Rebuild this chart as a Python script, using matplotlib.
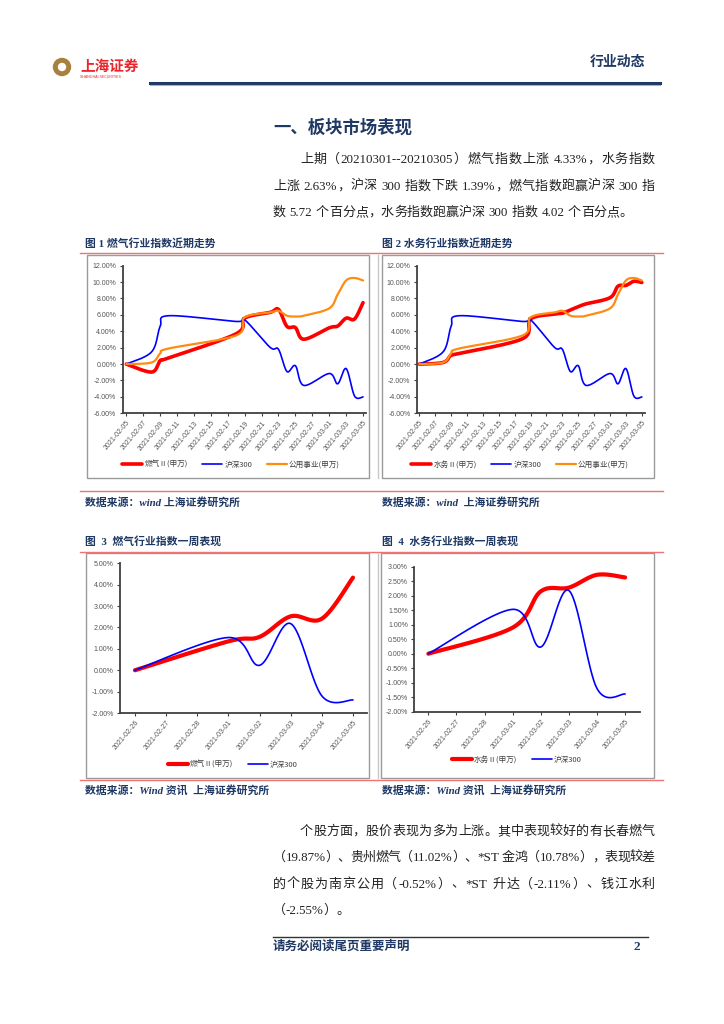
import numpy as np
import pandas as pd
import matplotlib
matplotlib.use('Agg')
import matplotlib.pyplot as plt
from matplotlib.lines import Line2D
from matplotlib.patches import Rectangle, Circle
from matplotlib.ticker import FuncFormatter

# ---- data ----
trend_dates = ['2021-02-05', '2021-02-08', '2021-02-09', '2021-02-10', '2021-02-18',
               '2021-02-19', '2021-02-22', '2021-02-23', '2021-02-24', '2021-02-25',
               '2021-02-26', '2021-03-01', '2021-03-02', '2021-03-03', '2021-03-04',
               '2021-03-05']
gas_trend = [0, -0.97, 0.4, 0.75, 3.7, 5.6, 6.3, 6.67, 4.6, 4.45, 3.03, 4.42, 4.64, 5.6, 5.5, 7.5]
hs300_trend = [0, 1.5, 4.6, 5.9, 5.2, 5.4, 2.05, 1.8, -0.9, -0.2, -2.6, -1.15, -2.4, -0.55, -3.9, -4.0]
utility_trend = [0, 0.2, 1.3, 1.9, 3.5, 5.7, 6.3, 6.5, 5.9, 5.8, 5.9, 6.8, 8.5, 10.2, 10.5, 10.2]
water_trend = [0, 0.2, 1.1, 1.3, 3.1, 5.5, 6.1, 6.2, 6.6, 7.0, 7.35, 8.1, 9.5, 9.6, 10.1, 9.95]
trend_ticks = pd.date_range('2021-02-05', '2021-03-05', freq='2D')

week_dates = ['2021-02-26', '2021-03-01', '2021-03-02', '2021-03-03', '2021-03-04', '2021-03-05']
gas_week = [0, 1.35, 1.56, 2.52, 2.41, 4.33]
hs300_week = [0, 1.53, 0.23, 2.18, -1.2, -1.39]
water_week = [0, 0.90, 2.15, 2.28, 2.72, 2.63]
week_ticks = pd.date_range('2021-02-26', '2021-03-05', freq='D')

title = '一、板块市场表现'
para1 = ['上期（20210301--20210305）燃气指数上涨 4.33%，水务指数',
         '上涨 2.63%，沪深 300 指数下跌 1.39%，燃气指数跑赢沪深 300 指',
         '数 5.72 个百分点，水务指数跑赢沪深 300 指数 4.02 个百分点。']
para2 = ['个股方面，股价表现为多为上涨。其中表现较好的有长春燃气',
         '（19.87%）、贵州燃气（11.02%）、*ST 金鸿（10.78%），表现较差',
         '的个股为南京公用（-0.52%）、*ST 升达（-2.11%）、钱江水利',
         '（-2.55%）。']
captions = ['图 1 燃气行业指数近期走势', '图 2 水务行业指数近期走势',
            '图  3  燃气行业指数一周表现', '图  4  水务行业指数一周表现']
sources = ['数据来源：wind 上海证券研究所', '数据来源：wind  上海证券研究所',
           '数据来源：Wind 资讯  上海证券研究所', '数据来源：Wind 资讯  上海证券研究所']

W, H = 724, 1024
NAVY = '#1F3864'
PINK = '#F07272'
SERIF = ['Liberation Serif', 'Noto Sans CJK SC']
SANS = ['Noto Sans CJK SC', 'Liberation Sans']

fig = plt.figure(figsize=(W / 100, H / 100), dpi=100)
renderer = fig.canvas.get_renderer()


def fx(x):
    return x / W


def fy(y):
    return 1 - y / H


def hline(x0, x1, y, color, lw):
    fig.add_artist(Line2D([fx(x0), fx(x1)], [fy(y), fy(y)], transform=fig.transFigure,
                          color=color, lw=lw))


def box(l, t, r, b, color='#9A9A9A'):
    fig.add_artist(Rectangle((fx(l), fy(b)), (r - l) / W, (b - t) / H, transform=fig.transFigure,
                             fill=False, edgecolor=color, lw=1))


def text_width(s, **kw):
    """advance width in pixels, measured between two bars"""
    t1 = fig.text(0, 0, '|' + s + '|', **kw)
    t2 = fig.text(0, 0, '||', **kw)
    w = t1.get_window_extent(renderer).width - t2.get_window_extent(renderer).width
    t1.remove()
    t2.remove()
    return w


def tokens(s):
    out, buf = [], ''
    for ch in s:
        if ord(ch) < 128 and ch != ' ':
            buf += ch
        else:
            if buf:
                out.append(buf)
                buf = ''
            out.append(ch)
    if buf:
        out.append(buf)
    return out


def put_line(s, x0, x1, y, size, justify=True, **kw):
    toks = tokens(s)
    em = size * 100 / 72
    widths = [em * 0.28 if t == ' ' else text_width(t, fontsize=size, **kw) for t in toks]
    gap = ((x1 - x0) - sum(widths)) / (len(toks) - 1) if justify else 0
    x = x0
    for t, w in zip(toks, widths):
        if t != ' ':
            fig.text(fx(x), fy(y), t, fontsize=size, va='center', ha='left', **kw)
        x += w + gap


def smooth(x, y, n=24):
    """Excel style smoothed line (cubic bezier through the points)"""
    P = np.column_stack([np.asarray(x, float), np.asarray(y, float)])
    Pm = np.vstack([P[0], P, P[-1]])
    t = np.linspace(0, 1, n)[:, None]
    out = []
    for i in range(len(P) - 1):
        p0, p1, p2, p3 = Pm[i], Pm[i + 1], Pm[i + 2], Pm[i + 3]
        c1 = p1 + (p2 - p0) / 6
        c2 = p2 - (p3 - p1) / 6
        seg = (1 - t) ** 3 * p1 + 3 * (1 - t) ** 2 * t * c1 + 3 * (1 - t) * t ** 2 * c2 + t ** 3 * p2
        out.append(seg if i == 0 else seg[1:])
    seg = np.vstack(out)
    return seg[:, 0], seg[:, 1]


def draw_chart(rect, dates, series, ylim, ystep, tick_dates, xlim, legend_at):
    l, t, r, b = rect
    ax = fig.add_axes([fx(l), fy(b), (r - l) / W, (b - t) / H])
    x0 = pd.Timestamp(dates[0])
    xd = (pd.to_datetime(dates) - x0).days.values
    for vals, color, lw, label in series:
        sx, sy = smooth(xd, vals)
        ax.plot(sx, sy, color=color, lw=lw, label=label, solid_capstyle='round')
    ax.set_xlim(xlim)
    ax.set_ylim(ylim)
    ax.set_yticks(np.arange(ylim[0], ylim[1] + ystep / 2, ystep))
    ax.yaxis.set_major_formatter(FuncFormatter(lambda v, p: f'{v:.2f}%'))
    ax.set_xticks((tick_dates - x0).days.values)
    ax.set_xticklabels(tick_dates.strftime('%Y-%m-%d'), rotation=50, ha='right', va='top',
                       rotation_mode='anchor')
    for s in ['top', 'right']:
        ax.spines[s].set_visible(False)
    for s in ['left', 'bottom']:
        ax.spines[s].set_color('#404040')
        ax.spines[s].set_linewidth(1.3)
    ax.tick_params(labelsize=5, colors='#404040', length=2.5, width=0.8, pad=2)
    for lab in ax.get_xticklabels() + ax.get_yticklabels():
        lab.set_family('Liberation Sans')
        lab.set_color('#555555')
    ax.patch.set_alpha(0)
    ax.legend(loc='center', bbox_to_anchor=(fx(legend_at[0]), fy(legend_at[1])),
              bbox_transform=fig.transFigure, ncol=len(series), frameon=False,
              prop={'family': SANS, 'size': 5.5}, handlelength=2.6, handletextpad=0.3,
              columnspacing=1.9, labelcolor='#404040')
    return ax


# ---- page header ----
fig.add_artist(Circle((62 / 100, (H - 67) / 100), 0.085, transform=fig.dpi_scale_trans,
                      color='#A8813F'))
fig.add_artist(Circle((62 / 100, (H - 67) / 100), 0.035, transform=fig.dpi_scale_trans,
                      color='white'))
fig.text(fx(80), fy(66), '上海证券', fontsize=10.5, fontweight='bold', color='#E8262B',
         family=SANS, va='center')
fig.text(fx(80), fy(76.5), 'SHANGHAI SECURITIES', fontsize=2.6, color='#E8262B',
         family='Liberation Sans', va='center')
fig.text(fx(645), fy(62), '行业动态', fontsize=10, fontweight='bold', color=NAVY,
         family=SANS, va='center', ha='right')
hline(150, 660, 82.5, NAVY, 2.2)
hline(150, 660, 84.5, '#9DB3D0', 0.8)

# ---- first section ----
fig.text(fx(273), fy(128), title, fontsize=12.5, fontweight='bold', color=NAVY,
         family=SANS, va='center')
body = dict(family=SERIF, color='#222222')
put_line(para1[0], 300, 655, 160, 9.4, **body)
put_line(para1[1], 273, 655, 186.5, 9.4, **body)
put_line(para1[2], 273, 655, 213, 9.4, justify=False, **body)

cap = dict(family=SERIF, color=NAVY, fontweight='bold', fontsize=7.8, va='center')
src = dict(family=SERIF, color=NAVY, fontweight='bold', fontstyle='italic', fontsize=7.8,
           va='center')

# figures 1 and 2
fig.text(fx(85), fy(243), captions[0], **cap)
fig.text(fx(382), fy(243), captions[1], **cap)
hline(80, 663, 252.5, PINK, 1.0)
box(86.7, 255, 369.3, 478)
box(381.7, 255, 654.3, 478)
fig.add_artist(Line2D([fx(377.7)] * 2, [fy(255), fy(478)], transform=fig.transFigure,
                      color='#C8C8C8', lw=1))
hline(80, 663, 490.5, PINK, 1.0)
fig.text(fx(85), fy(502), sources[0], **src)
fig.text(fx(382), fy(502), sources[1], **src)

draw_chart((122.5, 265.7, 366, 413.3), trend_dates,
           [(gas_trend, '#FF0000', 2.6, '燃气Ⅱ(申万)'),
            (hs300_trend, '#0000FF', 1.2, '沪深300'),
            (utility_trend, '#FF8C10', 1.6, '公用事业(申万)')],
           (-6, 12), 2, trend_ticks, (-0.45, 28.35), (231, 465))
draw_chart((416.7, 265.7, 645, 413.3), trend_dates,
           [(water_trend, '#FF0000', 2.6, '水务Ⅱ(申万)'),
            (hs300_trend, '#0000FF', 1.2, '沪深300'),
            (utility_trend, '#FF8C10', 1.6, '公用事业(申万)')],
           (-6, 12), 2, trend_ticks, (-0.33, 28.4), (520, 465))

# figures 3 and 4
fig.text(fx(85), fy(541.5), captions[2], **cap)
fig.text(fx(382), fy(541.5), captions[3], **cap)
hline(80, 663, 551.5, PINK, 1.0)
box(86, 553, 369, 778)
box(381, 553, 654, 778)
fig.add_artist(Line2D([fx(377.7)] * 2, [fy(553), fy(778)], transform=fig.transFigure,
                      color='#C8C8C8', lw=1))
hline(80, 663, 779.5, PINK, 1.0)
fig.text(fx(85), fy(790), sources[2], **src)
fig.text(fx(382), fy(790), sources[3], **src)

draw_chart((120, 563.3, 367, 713), week_dates,
           [(gas_week, '#FF0000', 3.0, '燃气Ⅱ(申万)'),
            (hs300_week, '#0000FF', 1.2, '沪深300')],
           (-2, 5), 1, week_ticks, (-0.48, 7.45), (233, 765))
draw_chart((414.3, 566.7, 640, 711.7), week_dates,
           [(water_week, '#FF0000', 3.0, '水务Ⅱ(申万)'),
            (hs300_week, '#0000FF', 1.2, '沪深300')],
           (-2, 3), 0.5, week_ticks, (-0.5, 7.53), (517, 760))

# ---- second paragraph and footer ----
put_line(para2[0], 300, 655, 832, 9.4, **body)
put_line(para2[1], 273, 655, 858, 9.4, **body)
put_line(para2[2], 273, 655, 884.5, 9.4, **body)
put_line(para2[3], 273, 655, 911, 9.4, justify=False, **body)

hline(273, 648, 937, '#333333', 1.0)
fig.text(fx(273), fy(947), '请务必阅读尾页重要声明', fontsize=9, fontweight='bold', color=NAVY,
         family=SERIF, va='center')
fig.text(fx(633), fy(947), '2', fontsize=9.5, fontweight='bold', color=NAVY,
         family=SERIF, va='center')

fig.savefig('out.png', dpi=100)
